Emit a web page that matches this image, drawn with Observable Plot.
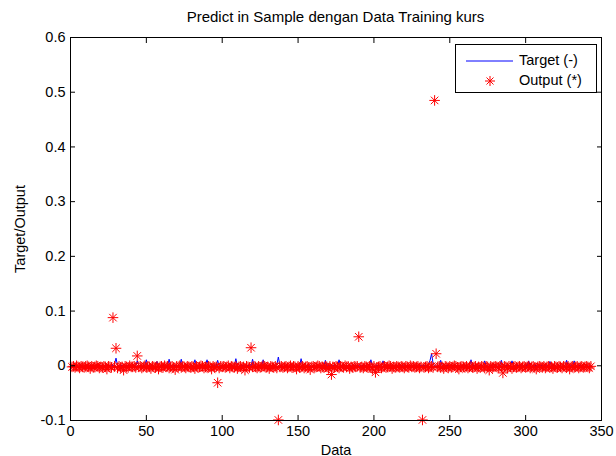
<!DOCTYPE html>
<html><head><meta charset="utf-8">
<script src="https://cdn.jsdelivr.net/npm/d3@7"></script>
<script src="https://cdn.jsdelivr.net/npm/@observablehq/plot@0.6"></script>
<style>
body{margin:0;background:#fff;font-family:"Liberation Sans",Arial,Helvetica,sans-serif;}
#wrap{position:relative;width:616px;height:456px;overflow:hidden;background:#fff}
#title{height:30px;box-sizing:border-box;padding-left:70px;width:601px;text-align:center;font-size:15px;line-height:17px;padding-top:8px;color:#000}
#legend{position:absolute;left:455px;top:44px;width:140px;height:47px;border:1px solid #000;background:#fff;font-size:14.5px;color:#000}
#legend svg{position:absolute;left:0;top:0}
#legend .t{position:absolute;left:63px;line-height:17px;white-space:nowrap}
</style></head><body>
<div id="wrap">
<div id="title">Predict in Sample dengan Data Training kurs</div>
<div id="chart"></div>
<div id="legend">
<svg width="60" height="47"><line x1="10" y1="16" x2="57" y2="16" stroke="#0000ff" stroke-width="1"/>
<g stroke="#ff0000" stroke-width="1"><line x1="29" y1="36" x2="39" y2="36"/><line x1="34" y1="31" x2="34" y2="41"/><line x1="30.5" y1="32.5" x2="37.5" y2="39.5"/><line x1="30.5" y1="39.5" x2="37.5" y2="32.5"/></g></svg>
<div class="t" style="top:7px">Target (-)</div>
<div class="t" style="top:27px">Output (*)</div>
</div>
</div>
<script>
// Target series (units of 0.001), sample index 1..343
const targetMilli = [
0,-1,1,0,-1,0,2,-1,0,1,-1,0,0,1,-2,0,1,0,-1,1,
0,-1,0,1,0,-1,1,0,3,14,1,-1,0,1,0,-1,0,1,-1,0,
0,1,-1,9,1,0,-1,0,1,11,0,-1,0,1,-1,0,8,0,-1,0,
1,0,-1,0,12,0,-1,1,0,0,1,0,12,0,-1,1,0,0,-1,0,
1,11,0,-1,0,1,0,0,1,11,0,-1,0,1,0,0,10,-1,0,1,
0,-1,0,1,0,0,-1,1,13,0,-1,0,1,0,0,-1,1,0,0,12,
1,0,-1,0,1,0,11,0,-1,0,1,0,0,-1,1,2,16,1,0,-1,
0,1,0,-1,0,0,1,-1,0,1,0,13,0,-1,0,1,0,0,-1,1,
0,-1,1,0,0,1,-1,10,0,0,1,-1,0,1,0,-1,11,0,1,0,
-1,0,1,0,0,-1,1,0,0,1,-1,0,1,0,0,-1,1,11,0,-1,
0,1,0,0,-1,9,0,1,0,-1,0,1,0,0,-1,1,0,0,1,-1,
0,1,0,-1,0,1,0,0,-1,1,0,0,1,0,-1,3,10,22,4,0,
-1,0,1,10,0,-1,0,1,0,0,-1,1,0,0,1,0,-1,0,1,0,
0,-1,0,11,0,1,0,-1,0,1,0,0,9,0,-1,0,1,0,0,1,
-1,0,1,10,0,-1,0,1,0,0,9,0,-1,0,1,0,0,1,-1,0,
1,9,0,-1,0,1,0,0,-1,1,0,0,1,0,-1,8,0,1,0,-1,
0,1,0,-1,0,0,10,0,-1,1,0,9,0,-1,0,1,0,0,-1,1,
0,-1,0];
// Output series (units of 0.001)
const outputMilli = [
-2,-1,-3,0,-2,-4,-1,-2,-3,-1,0,-2,-5,-1,-3,-2,0,-1,-4,-2,
-3,-1,-2,-6,-1,-2,-3,88,-1,32,-4,-1,-3,-2,-8,-1,-2,-3,0,-2,
-2,-1,-3,18,-2,-1,-4,-2,0,-3,-1,-2,-5,-1,-2,-3,-1,-6,-2,-1,
-3,0,-2,-1,-4,-2,-1,-3,-7,-1,-2,0,-3,-1,-2,-4,-1,-2,-3,-1,
-2,-5,-1,-3,-2,0,-1,-4,-2,-3,-1,-2,-6,-1,-3,-2,-31,-4,-1,-2,
-1,-3,-2,0,-4,-1,-2,-3,-1,-5,-2,-1,-3,-2,-8,-1,-2,-3,33,-2,
-1,-2,-4,-1,-3,-2,0,-1,-3,-2,-5,-1,-2,-3,-1,-4,-99,-2,-1,-3,
-2,-1,-4,-2,0,-3,-1,-2,-6,-1,-3,-2,-1,-4,-2,-1,-3,-7,-2,-1,
-3,-2,0,-1,-4,-2,-3,-1,-2,-5,-1,-16,-2,-3,-1,-2,-4,-1,-2,-3,
0,-2,-1,-5,-2,-3,-1,-2,-1,53,-3,-2,-4,-1,-2,-3,-1,-2,-6,-1,
-12,-3,-2,-1,-4,-2,-1,-3,-2,0,-1,-5,-2,-3,-1,-2,-3,-1,-2,-4,
-1,-2,-3,0,-2,-1,-3,-2,-1,-4,-2,-99,-3,-2,-1,-4,-2,-1,-3,485,
22,-2,-1,-3,-2,-5,-1,-2,-4,-1,-3,-2,0,-1,-3,-6,-2,-1,-2,-3,
-1,-4,-2,-1,-3,-2,-1,-5,-2,-3,-1,-2,-4,-1,-2,-8,-1,-3,-2,-1,
-2,-3,-1,-2,-13,-1,-2,-4,-1,-2,-5,-2,-1,-3,-2,-1,-4,-2,-1,-3,
-2,-1,-4,-2,-1,-3,-6,-2,-1,-2,-3,-1,-4,-2,-1,-3,-2,-5,-1,-2,
-3,-1,-2,-4,-1,-2,-3,-1,-6,-2,-1,-3,-2,-1,-4,-2,-1,-3,-2,-1,
-2,-4,-1];
const xTicks = [0,50,100,150,200,250,300,350];
const xTickLabels = ["0","50","100","150","200","250","300","350"];
const yTicks = [-0.1,0,0.1,0.2,0.3,0.4,0.5,0.6];
const yTickLabels = ["-0.1","0","0.1","0.2","0.3","0.4","0.5","0.6"];
const seriesNames = ["Target (-)","Output (*)"];

const rows = targetMilli.map((t, k) => ({i: k + 1, target: t / 1000, output: outputMilli[k] / 1000}));
const fmtX = d => xTickLabels[xTicks.indexOf(d)];
const fmtY = d => yTickLabels[yTicks.indexOf(d)];

const chart = Plot.plot({
  width: 616, height: 426,
  marginLeft: 70, marginRight: 15, marginTop: 7, marginBottom: 36,
  style: {fontFamily: '"Liberation Sans", Arial, Helvetica, sans-serif', fontSize: "14.5px", color: "#000", background: "#fff"},
  x: {domain: [0, 350], axis: null},
  y: {domain: [-0.1, 0.6], axis: null},
  marks: [
    Plot.line(rows, {x: "i", y: "target", stroke: "#0000ff", strokeWidth: 1}),
    Plot.dot(rows, {x: "i", y: "output", symbol: "plus", r: 3.5, stroke: "#ff0000", strokeWidth: 1}),
    Plot.dot(rows, {x: "i", y: "output", symbol: "times", r: 3.5, stroke: "#ff0000", strokeWidth: 1}),
    Plot.frame({stroke: "#000", strokeWidth: 1}),
    Plot.axisX({anchor: "bottom", ticks: xTicks, tickSize: -5, tickPadding: 10, tickFormat: fmtX,
      label: "Data", labelAnchor: "center", labelArrow: "none", labelOffset: 34}),
    Plot.axisX({anchor: "top", ticks: xTicks, tickSize: -5, tickFormat: () => "", label: null}),
    Plot.axisY({anchor: "left", ticks: yTicks, tickSize: -5, tickPadding: 10, tickFormat: fmtY,
      label: "Target/Output", labelAnchor: "center", labelArrow: "none", labelOffset: 56}),
    Plot.axisY({anchor: "right", ticks: yTicks, tickSize: -5, tickFormat: () => "", label: null})
  ]
});
document.getElementById("chart").appendChild(chart);
</script>
</body></html>
